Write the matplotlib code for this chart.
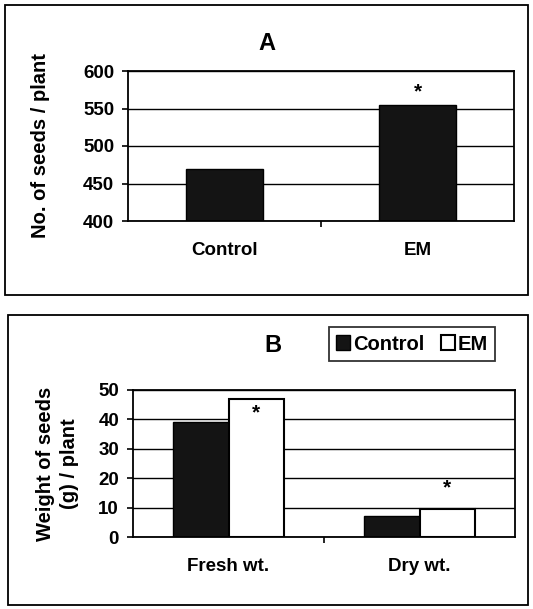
import numpy as np
import matplotlib
matplotlib.use('Agg')
import matplotlib.pyplot as plt
from matplotlib.patches import Rectangle

plt.rcParams['font.family'] = ['Liberation Sans', 'DejaVu Sans']
plt.rcParams['font.weight'] = 'bold'
plt.rcParams['axes.labelweight'] = 'bold'

# panel A
cats_a = ['Control', 'EM']
seeds_no = [470, 555]

# panel B
cats_b = ['Fresh wt.', 'Dry wt.']
weight_ctrl = [39, 7]
weight_em = [47, 9.5]

W, H = 533, 609
fig = plt.figure(figsize=(W/100, H/100), dpi=100)

def ax_px(l, t, r, b):
    return fig.add_axes([l/W, 1-b/H, (r-l)/W, (b-t)/H])

def style(ax):
    for s in ax.spines.values():
        s.set_linewidth(1.3)
        s.set_color('black')
    ax.tick_params(axis='y', length=4, width=1.2, labelsize=13.5, pad=6)
    ax.tick_params(axis='x', length=0, labelsize=13.5, pad=15)
    ax.set_axisbelow(True)
    ax.set_xlim(-0.5, 1.5)
    # category boundary tick
    ax.set_xticks([0.5], minor=True)
    ax.tick_params(axis='x', which='minor', length=4, width=1.2, direction='out')

# ---- A
axA = ax_px(128, 71, 514, 221)
axA.bar(np.arange(2), seeds_no, width=0.4, color='#141414', edgecolor='black', linewidth=1)
axA.set_ylim(400, 600)
axA.set_yticks([400, 450, 500, 550, 600])
axA.yaxis.grid(True, color='black', linewidth=1)
axA.set_xticks(np.arange(2))
axA.set_xticklabels(cats_a)
style(axA)
axA.set_ylabel('No. of seeds / plant', fontsize=14.5, labelpad=24)
axA.text(1, seeds_no[1] + 4, '*', ha='center', va='bottom', fontsize=15)
fig.text(267/W, 1-43/H, 'A', ha='center', va='center', fontsize=17)

# ---- B
axB = ax_px(133, 390, 515, 537)
x = np.arange(2)
bw = 0.29
axB.bar(x - bw/2, weight_ctrl, width=bw, color='#141414', edgecolor='black', linewidth=1, label='Control')
axB.bar(x + bw/2, weight_em, width=bw, color='white', edgecolor='black', linewidth=1.5, label='EM')
axB.set_ylim(0, 50)
axB.set_yticks([0, 10, 20, 30, 40, 50])
axB.yaxis.grid(True, color='black', linewidth=1)
axB.set_xticks(x)
axB.set_xticklabels(cats_b)
style(axB)
axB.set_ylabel('Weight of seeds\n(g) / plant', fontsize=14.5, labelpad=14, linespacing=1.35)
axB.text(0 + bw/2, weight_em[0] - 8, '*', ha='center', va='bottom', fontsize=15)
axB.text(1 + bw/2, weight_em[1] + 4, '*', ha='center', va='bottom', fontsize=15)
fig.text(273/W, 1-345/H, 'B', ha='center', va='center', fontsize=17)
leg = fig.legend(loc='center', bbox_to_anchor=(412/W, 1-344/H), ncol=2, fontsize=14.5,
                 frameon=True, fancybox=False, edgecolor='black', handlelength=0.7,
                 handleheight=0.7, handletextpad=0.15, columnspacing=0.8, borderpad=0.35)
leg.get_frame().set_linewidth(1.3)

# panel frames
for (l, t, r, b) in [(5, 5, 528, 295), (8, 315, 528, 605)]:
    fig.patches.append(Rectangle((l/W, 1-b/H), (r-l)/W, (b-t)/H, transform=fig.transFigure,
                                 fill=False, edgecolor='black', linewidth=1.3))

fig.savefig('out.png', dpi=100)
